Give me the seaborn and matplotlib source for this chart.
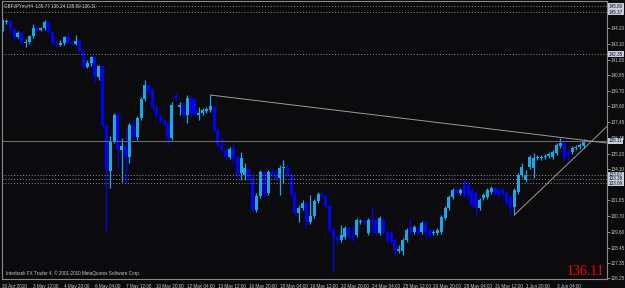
import matplotlib
matplotlib.use('Agg')
import matplotlib.pyplot as plt
import seaborn as sns
import pandas as pd
import numpy as np

# GBPJPYm H4 bars, 30 Apr - 3 Jun 2010 (prices)
opens = [144.15, 144.65, 144.72, 144.15, 143.57, 143.86, 143.14, 143.21, 143.65, 144.22,
         144.08, 144.22, 144.65, 143.93, 143.14, 143.00, 143.14, 143.57, 143.21, 143.07,
         143.29, 142.57, 141.42, 141.71, 142.14, 140.70, 141.49, 137.26, 133.95, 136.03,
         137.97, 135.46, 135.75, 134.96, 137.26, 136.39, 137.76, 139.12, 140.13, 139.77,
         138.48, 137.90, 137.54, 137.40, 136.32, 139.34, 138.55, 138.69, 137.97, 139.19,
         139.05, 137.97, 138.12, 138.26, 138.34, 138.55, 136.90, 135.82, 135.46, 134.96,
         135.53, 134.96, 133.81, 133.67, 134.02, 133.52, 131.15, 132.16, 133.88, 132.37,
         133.88, 133.88, 133.45, 134.17, 134.24, 133.67, 132.30, 130.94, 131.30, 131.65,
         130.29, 130.72, 131.80, 132.30, 132.16, 131.44, 129.72, 129.21, 129.00, 129.21,
         129.86, 129.36, 129.36, 130.29, 130.36, 129.50, 130.43, 130.43, 129.50, 130.43,
         129.57, 129.50, 129.00, 128.21, 128.21, 129.00, 129.93, 129.57, 129.86, 129.57,
         130.22, 129.72, 129.50, 129.50, 129.57, 130.58, 131.30, 132.09, 132.59, 132.37,
         133.16, 132.95, 132.59, 132.37, 131.30, 132.01, 132.09, 132.44, 132.73, 132.59,
         132.59, 132.37, 132.09, 131.37, 132.44, 133.67, 133.31, 134.24, 134.17, 134.89,
         134.89, 134.96, 135.03, 134.96, 135.25, 135.75, 135.96, 135.32, 135.32, 135.60,
         135.68, 135.77]
highs = [144.87, 144.87, 144.79, 144.22, 144.00, 144.00, 143.43, 143.72, 144.51, 144.36,
         144.29, 144.79, 144.72, 144.00, 143.36, 143.36, 143.65, 143.93, 143.36, 143.72,
         143.36, 142.71, 141.92, 142.21, 142.21, 141.56, 141.56, 137.33, 136.47, 138.12,
         138.19, 136.32, 137.04, 137.40, 137.61, 137.90, 139.27, 140.49, 140.27, 139.91,
         138.69, 138.05, 137.69, 137.54, 138.91, 139.55, 138.91, 138.83, 139.41, 139.34,
         139.19, 138.55, 138.48, 138.55, 139.41, 138.69, 137.04, 136.39, 135.60, 135.68,
         135.96, 135.10, 135.32, 134.53, 134.17, 133.67, 132.37, 134.02, 134.02, 134.02,
         134.17, 134.02, 134.38, 134.74, 134.38, 133.81, 132.44, 131.51, 131.87, 131.80,
         132.23, 131.94, 132.44, 132.44, 132.30, 131.58, 129.86, 129.36, 130.08, 130.00,
         130.00, 130.08, 130.58, 130.51, 130.51, 130.58, 131.37, 130.58, 130.72, 130.58,
         129.72, 129.64, 129.14, 128.64, 129.14, 129.86, 130.58, 130.08, 130.00, 130.36,
         130.43, 129.86, 129.72, 129.86, 130.79, 131.44, 132.23, 132.73, 132.73, 132.73,
         133.31, 133.09, 132.73, 132.52, 132.01, 132.37, 132.73, 132.88, 132.88, 132.73,
         132.73, 132.52, 132.23, 132.73, 133.81, 134.53, 134.02, 135.10, 135.25, 135.10,
         135.10, 135.17, 135.32, 135.46, 135.96, 136.32, 136.11, 135.46, 135.75, 135.82,
         135.96, 136.24]
lows = [144.00, 144.51, 143.86, 143.36, 143.50, 143.07, 142.86, 143.07, 143.50, 144.00,
        144.00, 144.08, 143.86, 143.07, 142.86, 142.93, 143.00, 143.14, 143.00, 143.00,
        142.50, 141.35, 141.35, 141.49, 140.34, 140.49, 137.11, 129.57, 132.73, 135.96,
        134.17, 133.16, 133.09, 134.53, 136.18, 136.18, 137.61, 138.98, 139.41, 138.34,
        137.76, 137.40, 137.26, 135.82, 136.18, 138.98, 137.97, 137.83, 137.40, 137.83,
        137.90, 137.61, 137.97, 138.12, 138.19, 136.75, 135.68, 135.32, 134.74, 134.81,
        134.38, 133.45, 133.31, 133.31, 133.31, 131.01, 131.01, 132.01, 132.09, 132.23,
        133.59, 133.31, 132.23, 133.09, 133.52, 132.16, 130.79, 130.29, 131.15, 129.86,
        130.15, 130.58, 131.65, 132.01, 131.30, 129.57, 126.70, 128.71, 128.85, 129.07,
        129.14, 128.93, 129.21, 130.15, 130.08, 129.36, 129.50, 129.36, 129.36, 129.43,
        128.78, 128.78, 127.85, 128.06, 127.92, 128.85, 129.36, 129.43, 129.36, 129.43,
        129.14, 129.21, 129.36, 129.36, 129.43, 130.43, 131.15, 131.94, 132.23, 132.23,
        132.09, 131.87, 131.37, 130.79, 131.15, 131.87, 131.94, 132.30, 132.23, 132.09,
        132.23, 131.51, 130.86, 130.79, 132.30, 133.52, 133.16, 134.10, 133.45, 134.74,
        134.74, 134.81, 134.89, 134.81, 135.10, 135.60, 134.74, 134.60, 135.17, 135.46,
        135.53, 135.59]
closes = [144.65, 144.72, 144.15, 143.57, 143.86, 143.14, 143.21, 143.65, 144.22, 144.08,
          144.22, 144.65, 143.93, 143.14, 143.00, 143.14, 143.57, 143.21, 143.07, 143.29,
          142.57, 141.42, 141.71, 142.14, 140.70, 141.49, 137.26, 133.95, 136.03, 137.97,
          135.46, 135.75, 134.96, 137.26, 136.39, 137.76, 139.12, 140.13, 139.77, 138.48,
          137.90, 137.54, 137.40, 136.32, 138.69, 139.12, 138.69, 137.97, 139.19, 138.12,
          138.05, 138.12, 138.34, 138.40, 138.62, 136.90, 135.82, 135.46, 134.96, 135.53,
          134.89, 133.67, 134.89, 134.17, 133.45, 131.15, 132.16, 133.88, 132.23, 133.88,
          133.74, 133.45, 134.17, 134.24, 133.67, 132.30, 130.94, 131.30, 131.65, 130.29,
          130.72, 131.80, 132.30, 132.16, 131.44, 129.72, 129.14, 129.00, 129.36, 129.86,
          129.29, 129.07, 130.43, 130.36, 130.22, 130.43, 130.29, 129.50, 130.58, 129.57,
          128.93, 128.93, 128.28, 128.35, 129.00, 129.72, 129.64, 129.93, 129.50, 130.22,
          129.57, 129.36, 129.57, 129.72, 130.65, 131.30, 132.09, 132.59, 132.37, 132.59,
          132.23, 132.23, 131.51, 131.30, 131.87, 132.23, 132.59, 132.73, 132.37, 132.23,
          132.37, 131.65, 131.37, 132.59, 133.67, 134.24, 133.67, 134.96, 134.89, 134.96,
          134.96, 135.03, 135.17, 135.32, 135.82, 135.96, 134.89, 135.10, 135.60, 135.68,
          135.82, 136.11]

time_labels = ['30 Apr 2010', '3 May 12:00', '4 May 20:00', '6 May 04:00', '7 May 12:00',
               '10 May 20:00', '12 May 04:00', '13 May 12:00', '16 May 20:00', '18 May 04:00',
               '19 May 12:00', '20 May 20:00', '24 May 04:00', '25 May 12:00', '26 May 20:00',
               '28 May 04:00', '31 May 12:00', '1 Jun 20:00', '3 Jun 04:00']
label_every = 8

price_ticks = [126.25, 127.35, 128.45, 129.60, 130.70, 131.85, 134.10, 135.20,
               136.35, 137.45, 138.60, 139.70, 140.85, 141.95, 143.10, 144.20]
level_lines = [145.80, 145.37, 142.35, 133.67, 133.38, 133.09]
bid = 136.11

trend_down_bars = [54, 157.2]
trend_down_prices = [139.41, 135.96]
trend_up_bars = [133, 157.2]
trend_up_prices = [130.79, 137.18]

header = 'GBPJPYm,H4  135.77 136.24 135.59 136.11'
footer = 'Interbank FX Trader 4, \u00a9 2001-2010 MetaQuotes Software Corp.'

df = pd.DataFrame({'open': opens, 'high': highs, 'low': lows, 'close': closes})
df['bar'] = np.arange(len(df))
df['up'] = df['close'] >= df['open']

bg = '#0b0b0e'
bull = '#1aa8e8'
bear = '#0000ff'
frame = '#8a8a8a'
txt = '#c8c8c8'
fs = 3.3

sns.set_style('dark', {'axes.facecolor': bg, 'figure.facecolor': bg,
                       'axes.edgecolor': frame, 'axes.grid': False})
plt.rcParams['font.family'] = ['Liberation Sans', 'DejaVu Sans']

fig = plt.figure(figsize=(6.25, 2.88), dpi=100)
ax = fig.add_axes([2 / 625, 1 - 279 / 288, 605 / 625, 278 / 288])

# wicks then bodies
col = np.where(df['up'], bull, bear)
ax.vlines(df['bar'], df['low'], df['high'], colors=col, lw=0.9)
body_lo = df[['open', 'close']].min(axis=1)
body_h = (df['close'] - df['open']).abs().clip(lower=0.04)
ax.bar(df['bar'], body_h, bottom=body_lo, width=0.78, color=col, linewidth=0)

# horizontal levels
for lv in level_lines:
    ax.axhline(lv, color='#8c8c8c', lw=0.7, ls=(0, (1, 2)))
ax.axhline(bid, color='#6a6a6a', lw=0.8)

# trend lines
sns.lineplot(x=trend_down_bars, y=trend_down_prices, ax=ax, color='#9a9a9a', lw=0.7)
sns.lineplot(x=trend_up_bars, y=trend_up_prices, ax=ax, color='#9a9a9a', lw=0.7)

ax.set_xlim((2 - 2.5) / 3.848, (607 - 2.5) / 3.848)
ax.set_ylim(126.20, 146.16)

ax.yaxis.tick_right()
ax.set_yticks(price_ticks)
ax.set_yticklabels([f'{v:.2f}' for v in price_ticks])
ax.tick_params(axis='y', length=2, width=0.7, color=frame, pad=1.0,
               labelsize=fs, labelcolor=txt)

xt = np.arange(0, len(time_labels) * label_every, label_every)
ax.set_xticks(xt)
ax.set_xticklabels(time_labels, ha='left')
ax.tick_params(axis='x', length=3, width=0.7, color=frame, pad=0.6,
               labelsize=fs, labelcolor=txt, direction='out')

for s in ax.spines.values():
    s.set_color(frame)
    s.set_linewidth(0.8)
ax.set_xlabel('')
ax.set_ylabel('')

# price boxes for the lines
tr = ax.get_yaxis_transform()
for lv in level_lines + [bid]:
    ax.text(1.003, lv, f'{lv:.2f}', transform=tr, fontsize=fs, color='#101010',
            va='center', ha='left',
            bbox=dict(boxstyle='square,pad=0.15', fc='#c4cede', ec='none'))

ax.text(0.003, 0.992, header, transform=ax.transAxes, fontsize=fs, color=txt,
        va='top', ha='left')
ax.text(0.006, 0.012, footer, transform=ax.transAxes, fontsize=fs, color=txt,
        va='bottom', ha='left')
ax.text(0.995, 0.004, f'{bid:.2f}', transform=ax.transAxes, fontsize=10,
        color='#ff0000', va='bottom', ha='right', family='Liberation Serif')

fig.savefig('out.png', dpi=100, facecolor=bg)
